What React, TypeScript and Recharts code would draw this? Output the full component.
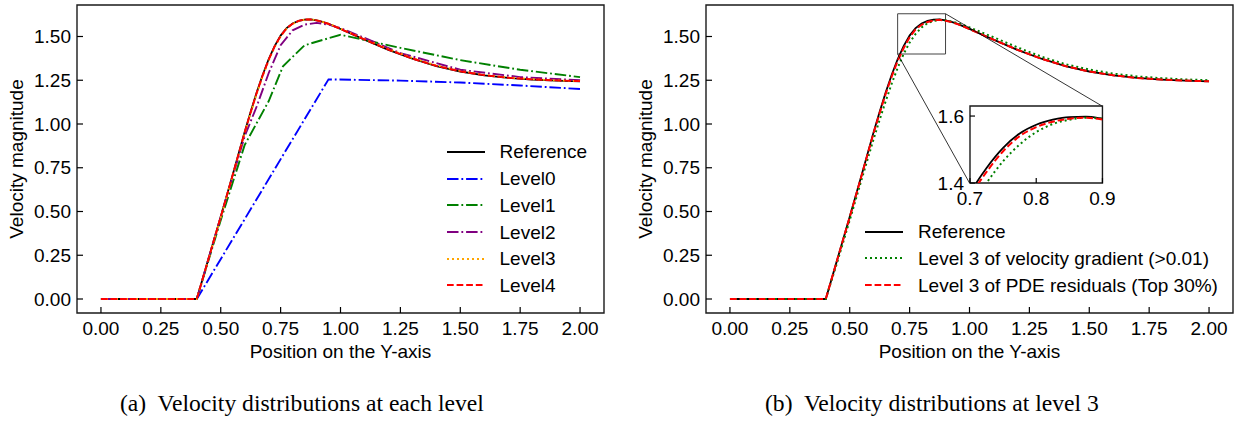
import React from "react"
import { LineChart, Line, XAxis, YAxis, ReferenceArea, ReferenceLine, Legend } from "recharts"

// sample positions along the Y-axis (shared by the fine-resolution curves)
const xFine = [
  0, 0.1, 0.2, 0.3, 0.4, 0.45, 0.5, 0.55, 0.6, 0.625, 0.65, 0.675, 0.7, 0.725, 0.75, 0.775, 0.8, 0.825,
  0.85, 0.875, 0.9, 0.925, 0.95, 0.975, 1.0, 1.1, 1.2, 1.3, 1.4, 1.5, 1.6, 1.7, 1.8, 1.9, 2.0,
]

const referenceV = [
  0, 0, 0, 0, 0, 0.235, 0.47, 0.71, 0.955, 1.07, 1.18, 1.28, 1.37, 1.445, 1.505, 1.548, 1.574, 1.589,
  1.597, 1.598, 1.592, 1.583, 1.572, 1.558, 1.543, 1.482, 1.424, 1.373, 1.331, 1.3, 1.278, 1.263, 1.254, 1.248, 1.244,
]
const level3V = [
  0, 0, 0, 0, 0, 0.232, 0.466, 0.705, 0.948, 1.062, 1.172, 1.272, 1.362, 1.44, 1.5, 1.545, 1.572, 1.588,
  1.596, 1.598, 1.593, 1.584, 1.573, 1.56, 1.545, 1.485, 1.428, 1.377, 1.335, 1.303, 1.281, 1.266, 1.256, 1.249, 1.245,
]
const level4V = [
  0, 0, 0, 0, 0, 0.234, 0.469, 0.708, 0.952, 1.067, 1.177, 1.277, 1.367, 1.443, 1.503, 1.547, 1.573, 1.589,
  1.597, 1.598, 1.592, 1.583, 1.572, 1.558, 1.543, 1.483, 1.425, 1.374, 1.332, 1.301, 1.279, 1.264, 1.255, 1.249, 1.245,
]
const gradientV = [
  0, 0, 0, 0, 0, 0.22, 0.45, 0.685, 0.915, 1.025, 1.13, 1.23, 1.32, 1.4, 1.465, 1.515, 1.552, 1.576,
  1.589, 1.595, 1.592, 1.585, 1.576, 1.565, 1.552, 1.496, 1.438, 1.385, 1.342, 1.311, 1.288, 1.272, 1.262, 1.255, 1.25,
]
const residualV = [
  0, 0, 0, 0, 0, 0.234, 0.468, 0.707, 0.95, 1.063, 1.172, 1.27, 1.36, 1.433, 1.495, 1.54, 1.567, 1.583,
  1.592, 1.595, 1.59, 1.582, 1.571, 1.557, 1.542, 1.482, 1.424, 1.373, 1.331, 1.3, 1.278, 1.263, 1.254, 1.248, 1.244,
]

// coarse levels are sampled on their own grids
const level0X = [0, 0.4, 0.95, 1.25, 1.5, 1.75, 2.0]
const level0V = [0, 0, 1.255, 1.248, 1.237, 1.22, 1.2]
const level1X = [0, 0.4, 0.5, 0.6, 0.7, 0.76, 0.85, 1.0, 1.25, 1.5, 1.75, 2.0]
const level1V = [0, 0, 0.45, 0.88, 1.13, 1.33, 1.45, 1.51, 1.435, 1.365, 1.31, 1.268]
const level2X = [0, 0.4, 0.5, 0.6, 0.65, 0.7, 0.75, 0.8, 0.85, 0.9, 0.95, 1.0, 1.1, 1.25, 1.5, 1.75, 2.0]
const level2V = [0, 0, 0.47, 0.93, 1.1, 1.29, 1.45, 1.535, 1.568, 1.578, 1.568, 1.548, 1.492, 1.405, 1.31, 1.268, 1.25]

const xTicks = [0, 0.25, 0.5, 0.75, 1.0, 1.25, 1.5, 1.75, 2.0]
const yTicks = [0, 0.25, 0.5, 0.75, 1.0, 1.25, 1.5]
const insetXTicks = [0.7, 0.8, 0.9]
const insetYTicks = [1.4, 1.6]

const X_DOMAIN: [number, number] = [-0.1, 2.1]
const Y_DOMAIN: [number, number] = [-0.08, 1.68]
const ZOOM = { x1: 0.7, x2: 0.9, y1: 1.4, y2: 1.63 }
// where the inset sits, in the main panel's data units
const INSET_AT = { x0: 1.0, x1: 1.553, y0: 0.663, y1: 1.103 }

const SANS = '"Liberation Sans", Arial, Helvetica, sans-serif'
const SERIF = '"Liberation Serif", "Times New Roman", serif'
const FS = 19

const CHART_W = 620
const CHART_H = 345
const MARGIN = { top: 5, right: 16, bottom: 31, left: 76 }
const PLOT = { left: 77, top: 5, width: 527, height: 308 }

const DASHDOT = "11.5 2.9 1.8 2.9"
const DASHED = "6.7 2.9"
const DOTTED = "2 3"

type Pt = { x: number; v: number }
type Series = {
  name: string
  data: Pt[]
  color: string
  width: number
  dash?: string
  curve: "linear" | "monotone"
}

const zip = (xs: number[], vs: number[]): Pt[] => xs.map((x, i) => ({ x, v: vs[i] }))

const referenceLine: Series = { name: "Reference", data: zip(xFine, referenceV), color: "#000000", width: 1.8, curve: "linear" }

const levelSeries: Series[] = [
  referenceLine,
  { name: "Level0", data: zip(level0X, level0V), color: "#0000ff", width: 1.9, dash: DASHDOT, curve: "linear" },
  { name: "Level1", data: zip(level1X, level1V), color: "#008000", width: 1.9, dash: DASHDOT, curve: "linear" },
  { name: "Level2", data: zip(level2X, level2V), color: "#800080", width: 1.9, dash: DASHDOT, curve: "linear" },
  { name: "Level3", data: zip(xFine, level3V), color: "#ffa500", width: 1.9, dash: DOTTED, curve: "linear" },
  { name: "Level4", data: zip(xFine, level4V), color: "#ff0000", width: 1.9, dash: DASHED, curve: "linear" },
]

const level3Series: Series[] = [
  referenceLine,
  { name: "Level 3 of velocity gradient (>0.01)", data: zip(xFine, gradientV), color: "#008000", width: 2, dash: DOTTED, curve: "linear" },
  { name: "Level 3 of PDE residuals (Top 30%)", data: zip(xFine, residualV), color: "#ff0000", width: 2, dash: DASHED, curve: "linear" },
]

const tickFont = { fill: "#000", fontSize: FS, fontFamily: SANS }
const tickLine = { stroke: "#000", strokeWidth: 1.2 }

// pixel position of a main-panel data value, relative to the chart's origin
const px = (x: number) => PLOT.left + ((x - X_DOMAIN[0]) / (X_DOMAIN[1] - X_DOMAIN[0])) * PLOT.width
const py = (v: number) => PLOT.top + ((Y_DOMAIN[1] - v) / (Y_DOMAIN[1] - Y_DOMAIN[0])) * PLOT.height

const renderLegend = (items: Series[]) => () => (
  <div style={{ fontFamily: SANS, fontSize: FS, color: "#000", lineHeight: 1 }}>
    {items.map((s) => (
      <div key={s.name} style={{ display: "flex", alignItems: "center", height: 26.7, whiteSpace: "nowrap" }}>
        <svg width={38} height={8} style={{ marginRight: 15, flex: "none" }}>
          <line x1={0} y1={4} x2={38} y2={4} stroke={s.color} strokeWidth={s.width} strokeDasharray={s.dash} />
        </svg>
        <span>{s.name}</span>
      </div>
    ))}
  </div>
)

const seriesLines = (items: Series[], curve?: "monotone") =>
  items.map((s) => (
    <Line
      key={s.name}
      name={s.name}
      data={s.data}
      dataKey="v"
      type={curve ?? s.curve}
      stroke={s.color}
      strokeWidth={s.width}
      strokeDasharray={s.dash}
      dot={false}
      activeDot={false}
      legendType="none"
      isAnimationActive={false}
    />
  ))

function Panel(props: { items: Series[]; legendAt: { left: number; top: number }; children?: React.ReactNode }) {
  const { items, legendAt, children } = props
  return (
    <LineChart width={CHART_W} height={CHART_H} margin={MARGIN}>
      <XAxis
        type="number"
        dataKey="x"
        domain={X_DOMAIN}
        ticks={xTicks}
        interval={0}
        allowDataOverflow
        height={1}
        axisLine={false}
        tickSize={-6}
        tickMargin={15}
        tickLine={tickLine}
        tick={tickFont}
        tickFormatter={(v: number) => v.toFixed(2)}
      />
      <YAxis
        type="number"
        domain={Y_DOMAIN}
        ticks={yTicks}
        interval={0}
        allowDataOverflow
        width={1}
        axisLine={false}
        tickSize={-6}
        tickMargin={12}
        tickLine={tickLine}
        tick={tickFont}
        tickFormatter={(v: number) => v.toFixed(2)}
      />
      {seriesLines(items)}
      <ReferenceArea
        x1={X_DOMAIN[0]}
        x2={X_DOMAIN[1]}
        y1={Y_DOMAIN[0]}
        y2={Y_DOMAIN[1]}
        fill="none"
        fillOpacity={0}
        stroke="#1a1a1a"
        strokeWidth={1.4}
        ifOverflow="visible"
      />
      {children}
      <Legend
        layout="vertical"
        align="center"
        verticalAlign="middle"
        content={renderLegend(items)}
        wrapperStyle={{ left: legendAt.left, top: legendAt.top, width: "auto", height: "auto" }}
      />
    </LineChart>
  )
}

function Inset() {
  const plotW = px(INSET_AT.x1) - px(INSET_AT.x0)
  const plotH = py(INSET_AT.y0) - py(INSET_AT.y1)
  const m = { top: 6, right: 24, bottom: 30, left: 39 }
  return (
    <LineChart width={m.left + 1 + plotW + m.right} height={m.top + plotH + 1 + m.bottom} margin={m}>
      <XAxis
        type="number"
        dataKey="x"
        domain={[ZOOM.x1, ZOOM.x2]}
        ticks={insetXTicks}
        interval={0}
        allowDataOverflow
        height={1}
        axisLine={false}
        tickSize={-5}
        tickMargin={14}
        tickLine={tickLine}
        tick={tickFont}
        tickFormatter={(v: number) => v.toFixed(1)}
      />
      <YAxis
        type="number"
        domain={[ZOOM.y1, ZOOM.y2]}
        ticks={insetYTicks}
        interval={0}
        allowDataOverflow
        width={1}
        axisLine={false}
        tickSize={-5}
        tickMargin={11}
        tickLine={tickLine}
        tick={tickFont}
        tickFormatter={(v: number) => v.toFixed(1)}
      />
      {seriesLines(level3Series, "monotone")}
      <ReferenceArea
        x1={ZOOM.x1}
        x2={ZOOM.x2}
        y1={ZOOM.y1}
        y2={ZOOM.y2}
        fill="none"
        fillOpacity={0}
        stroke="#1a1a1a"
        strokeWidth={1.4}
        ifOverflow="visible"
      />
    </LineChart>
  )
}

const RIGHT_X = 629

export default function App() {
  const insetLeft = RIGHT_X + px(INSET_AT.x0) - 40
  const insetTop = py(INSET_AT.y1) - 6
  const textStyle: React.CSSProperties = { whiteSpace: "pre" }
  return (
    <div style={{ position: "absolute", left: 0, top: 0, width: 1245, height: 421, background: "#fff", overflow: "hidden" }}>
      <svg width={1245} height={421} style={{ position: "absolute", left: 0, top: 0 }}>
        <g fontFamily={SANS} fontSize={FS} fill="#000" textAnchor="middle">
          <text x={340.5} y={358}>Position on the Y-axis</text>
          <text x={969.5} y={358}>Position on the Y-axis</text>
          <text transform="translate(23,159) rotate(-90)">Velocity magnitude</text>
          <text transform="translate(652,159) rotate(-90)">Velocity magnitude</text>
        </g>
        <g fontFamily={SERIF} fontSize={23.6} fill="#000">
          <text x={120} y={411} style={textStyle}>{"(a)  Velocity distributions at each level"}</text>
          <text x={765} y={411} style={textStyle}>{"(b)  Velocity distributions at level 3"}</text>
        </g>
      </svg>
      <div style={{ position: "absolute", left: 0, top: 0 }}>
        <Panel items={levelSeries} legendAt={{ left: 446.5, top: 138.6 }} />
      </div>
      <div style={{ position: "absolute", left: RIGHT_X, top: 0 }}>
        <Panel items={level3Series} legendAt={{ left: 236, top: 218.3 }}>
          <ReferenceArea
            x1={ZOOM.x1}
            x2={ZOOM.x2}
            y1={ZOOM.y1}
            y2={ZOOM.y2}
            fill="none"
            fillOpacity={0}
            stroke="#444"
            strokeWidth={1}
            ifOverflow="visible"
          />
          <ReferenceLine
            segment={[{ x: ZOOM.x1, y: ZOOM.y1 }, { x: INSET_AT.x0, y: INSET_AT.y0 }]}
            stroke="#000"
            strokeWidth={0.8}
            ifOverflow="visible"
          />
          <ReferenceLine
            segment={[{ x: ZOOM.x2, y: ZOOM.y2 }, { x: INSET_AT.x1, y: INSET_AT.y1 }]}
            stroke="#000"
            strokeWidth={0.8}
            ifOverflow="visible"
          />
        </Panel>
      </div>
      <div style={{ position: "absolute", left: insetLeft, top: insetTop, background: "transparent" }}>
        <Inset />
      </div>
    </div>
  )
}
